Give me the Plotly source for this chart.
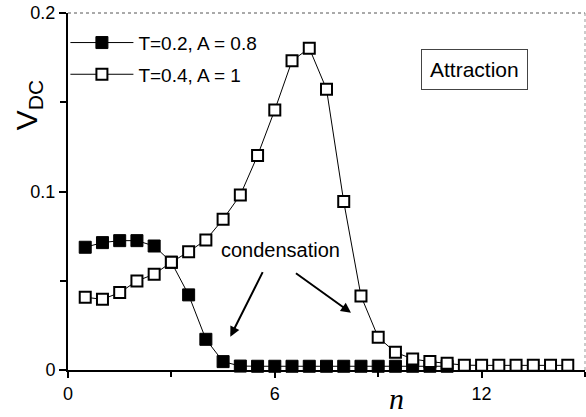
import plotly.graph_objects as go

# Occupation index n (half-integer grid)
n_filled = [0.5, 1.0, 1.5, 2.0, 2.5, 3.0, 3.5, 4.0, 4.5, 5.0, 5.5,
            6.0, 6.5, 7.0, 7.5, 8.0, 8.5, 9.0, 9.5, 10.0, 10.5, 11.0]
v_filled = [0.0688, 0.0714, 0.0725, 0.0725, 0.0695, 0.0604, 0.0421, 0.0172,
            0.0047, 0.0022, 0.0021, 0.0021, 0.0021, 0.0021, 0.0021, 0.0021,
            0.0021, 0.0021, 0.0021, 0.0021, 0.0021, 0.0021]

n_open = [0.5, 1.0, 1.5, 2.0, 2.5, 3.0, 3.5, 4.0, 4.5, 5.0, 5.5, 6.0, 6.5,
          7.0, 7.5, 8.0, 8.5, 9.0, 9.5, 10.0, 10.5, 11.0, 11.5, 12.0, 12.5,
          13.0, 13.5, 14.0, 14.5]
v_open = [0.0408, 0.0396, 0.0434, 0.0499, 0.0537, 0.0604, 0.0663, 0.0729,
          0.0845, 0.0981, 0.1202, 0.1458, 0.1733, 0.1804, 0.1574, 0.0944,
          0.0415, 0.0183, 0.0099, 0.0062, 0.0047, 0.0038, 0.0027, 0.0026,
          0.0026, 0.0026, 0.0026, 0.0026, 0.0026]

label_filled = "T=0.2, A = 0.8"
label_open = "T=0.4, A = 1"

x_ticks = [0, 6, 12]
y_ticks = [0, 0.1, 0.2]
y_tick_text = ["0", "0.1", "0.2"]

SANS = "Liberation Sans, Arial, sans-serif"

fig = go.Figure()

fig.add_trace(go.Scatter(
    x=n_filled, y=v_filled, name=label_filled, mode="lines+markers",
    legendgroup="a",
    line=dict(color="black", width=1),
    marker=dict(symbol="square", size=12, color="black",
                line=dict(color="black", width=1)),
    cliponaxis=False,
))

fig.add_trace(go.Scatter(
    x=n_open, y=v_open, name=label_open, mode="lines+markers",
    legendgroup="b",
    line=dict(color="black", width=1),
    marker=dict(symbol="square", size=11, color="white",
                line=dict(color="black", width=2)),
    cliponaxis=False,
))

annotations = [
    # rotated y-axis title
    dict(text="V<sub>DC</sub>", xref="paper", yref="paper",
         x=-0.077, y=0.742, xanchor="center", yanchor="middle",
         textangle=-90, showarrow=False,
         font=dict(family=SANS, size=30, color="black")),
    # x-axis title
    dict(text="<i>n</i>", xref="paper", yref="paper",
         x=0.636, y=-0.08, xanchor="center", yanchor="middle",
         showarrow=False,
         font=dict(family="Liberation Serif, Times New Roman, serif",
                   size=30, color="black")),
    # label for the two arrows
    dict(text="condensation", x=6.16, y=0.0673, xanchor="center",
         yanchor="middle", showarrow=False,
         font=dict(family=SANS, size=20, color="black")),
    dict(text="", x=4.71, y=0.0187, ax=5.67, ay=0.0557,
         axref="x", ayref="y", showarrow=True, arrowhead=2,
         arrowsize=1, arrowwidth=2, arrowcolor="black"),
    dict(text="", x=8.21, y=0.0321, ax=6.57, ay=0.0548,
         axref="x", ayref="y", showarrow=True, arrowhead=2,
         arrowsize=1, arrowwidth=2, arrowcolor="black"),
    # boxed regime label
    dict(text="Attraction", x=11.79, y=0.1683, xanchor="center",
         yanchor="middle", showarrow=False,
         bordercolor="#444444", borderwidth=1, borderpad=8,
         bgcolor="white",
         font=dict(family=SANS, size=21, color="black")),
]

shapes = [
    # thin dotted frame on the top and right sides
    dict(type="line", xref="paper", yref="paper", x0=0, x1=1, y0=1, y1=1,
         line=dict(color="#555555", width=1, dash="dot")),
    dict(type="line", xref="paper", yref="paper", x0=1, x1=1, y0=0, y1=1,
         line=dict(color="#999999", width=1, dash="dot")),
]

fig.update_layout(
    width=586, height=417,
    margin=dict(l=68, r=1, t=13, b=47),
    paper_bgcolor="white", plot_bgcolor="white",
    showlegend=True,
    legend=dict(x=-0.005, y=0.97, xanchor="left", yanchor="top",
                bgcolor="rgba(0,0,0,0)", tracegroupgap=4, itemwidth=63,
                font=dict(family=SANS, size=19, color="black")),
    annotations=annotations,
    shapes=shapes,
    font=dict(family=SANS, color="black"),
)

fig.update_xaxes(
    range=[0, 15], tickvals=x_ticks, ticks="outside", ticklen=6,
    tickwidth=1.5, tickcolor="black", showline=True, linecolor="black",
    linewidth=2, showgrid=False, zeroline=False,
    tickfont=dict(family=SANS, size=18, color="black"),
    minor=dict(dtick=3, tick0=0, ticks="outside", ticklen=5,
               tickwidth=1.5, tickcolor="black", showgrid=False),
)

fig.update_yaxes(
    range=[0, 0.2001], tickvals=y_ticks, ticktext=y_tick_text,
    ticks="outside", ticklen=7, tickwidth=1.5, tickcolor="black",
    showline=True, linecolor="black", linewidth=2, showgrid=False,
    zeroline=False,
    tickfont=dict(family=SANS, size=18, color="black"),
    minor=dict(dtick=0.05, tick0=0, ticks="outside", ticklen=6,
               tickwidth=1.5, tickcolor="black", showgrid=False),
)

fig.write_html("out.html")
